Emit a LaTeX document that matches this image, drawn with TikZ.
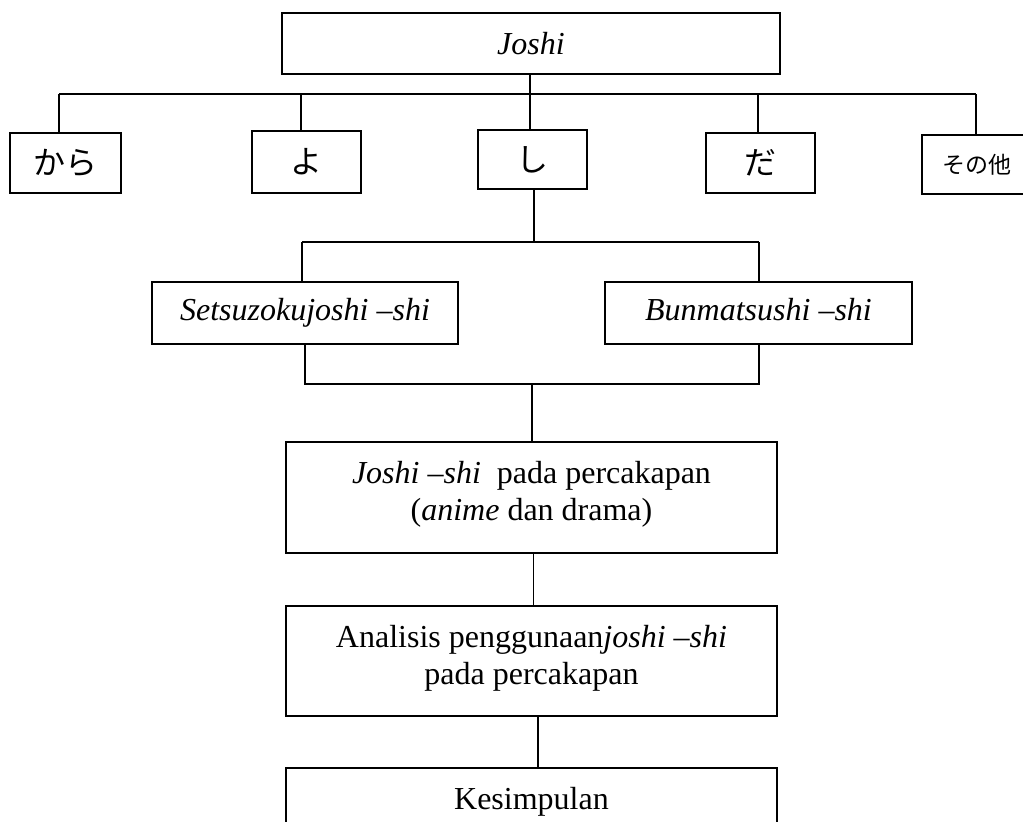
\documentclass[tikz,border=0pt]{standalone}
\usepackage{fontspec}
\setmainfont{Liberation Serif}
\newfontfamily\jp{Noto Sans CJK JP}
\begin{document}
\begin{tikzpicture}[x=0.5pt,y=-0.5pt,
  box/.style={draw,line width=1pt,rectangle,inner sep=0pt,align=center,font=\fontsize{16}{18.5}\selectfont},
  jbox/.style={box,font=\jp\fontsize{16}{18}\selectfont},
  midbox/.style={box,text height=11pt,text depth=3.5pt},
  conn/.style={line width=0.7pt}]
\useasboundingbox (0,0) rectangle (1023,821);
\clip (0,0) rectangle (1023,821);
% top
\node[box,minimum width=249pt,minimum height=30.5pt] (joshi) at (531,43.5) {\textit{Joshi}};
\node[jbox,minimum width=55.5pt,minimum height=30pt] (kara) at (65.5,163) {から};
\node[jbox,minimum width=54.5pt,minimum height=31pt] (yo) at (306.5,162) {よ};
\node[jbox,minimum width=54.5pt,minimum height=29.5pt] (shi) at (532.5,159.5) {し};
\node[jbox,minimum width=54.5pt,minimum height=30pt] (da) at (760.5,163) {だ};
\node[box,font=\jp\fontsize{11.5}{13}\selectfont,minimum width=55pt,minimum height=29.5pt] (sonota) at (977,164.5) {その他};
% bar 1
\coordinate (t1) at (59,94);
\coordinate (t2) at (301,94);
\coordinate (t3) at (530,94);
\coordinate (t4) at (758,94);
\coordinate (t5) at (976,94);
\draw[conn] (t1) -- (t5);
\draw[conn] (t3 |- joshi.south) -- (t3);
\draw[conn] (t1) -- (t1 |- kara.north);
\draw[conn] (t2) -- (t2 |- yo.north);
\draw[conn] (t3) -- (t3 |- shi.north);
\draw[conn] (t4) -- (t4 |- da.north);
\draw[conn] (t5) -- (t5 |- sonota.north);
% middle
\node[midbox,minimum width=153pt,minimum height=31pt] (setsu) at (305,313) {\textit{Setsuzokujoshi –shi}};
\node[midbox,minimum width=153.5pt,minimum height=31pt] (bun) at (758.5,313) {\textit{Bunmatsushi –shi}};
\coordinate (m) at (534,242);
\coordinate (m1) at (302,242);
\coordinate (m2) at (759,242);
\draw[conn] (m |- shi.south) -- (m);
\draw[conn] (m1) -- (m2);
\draw[conn] (m1) -- (m1 |- setsu.north);
\draw[conn] (m2) -- (m2 |- bun.north);
\coordinate (l) at (532,384);
\coordinate (l1) at (305,384);
\coordinate (l2) at (759,384);
\draw[conn] (l1 |- setsu.south) -- (l1) -- (l2) -- (l2 |- bun.south);
% lower boxes
\node[box,minimum width=245.5pt,minimum height=55.5pt] (boxA) at (531.5,497.5) {};
\node[align=center,font=\fontsize{16}{18.5}\selectfont,inner sep=0pt] (boxAt) at (531.5,494) {\textit{Joshi –shi}\ \ pada percakapan\\(\textit{anime} dan drama)};
\node[box,minimum width=245.5pt,minimum height=55pt] (boxB) at (531.5,661) {};
\node[align=center,font=\fontsize{16}{18.5}\selectfont,inner sep=0pt] (boxBt) at (531.5,658) {Analisis penggunaan\textit{joshi –shi}\\pada percakapan};
\node[box,minimum width=245.5pt,minimum height=34pt] (boxC) at (531.5,802) {Kesimpulan};
\draw[conn] (l) -- (l |- boxA.north);
\draw[conn] ([xshift=1pt]boxA.south) -- ([xshift=1pt]boxB.north);
\draw[conn] ([xshift=3.25pt]boxB.south) -- ([xshift=3.25pt]boxC.north);
\end{tikzpicture}
\end{document}
